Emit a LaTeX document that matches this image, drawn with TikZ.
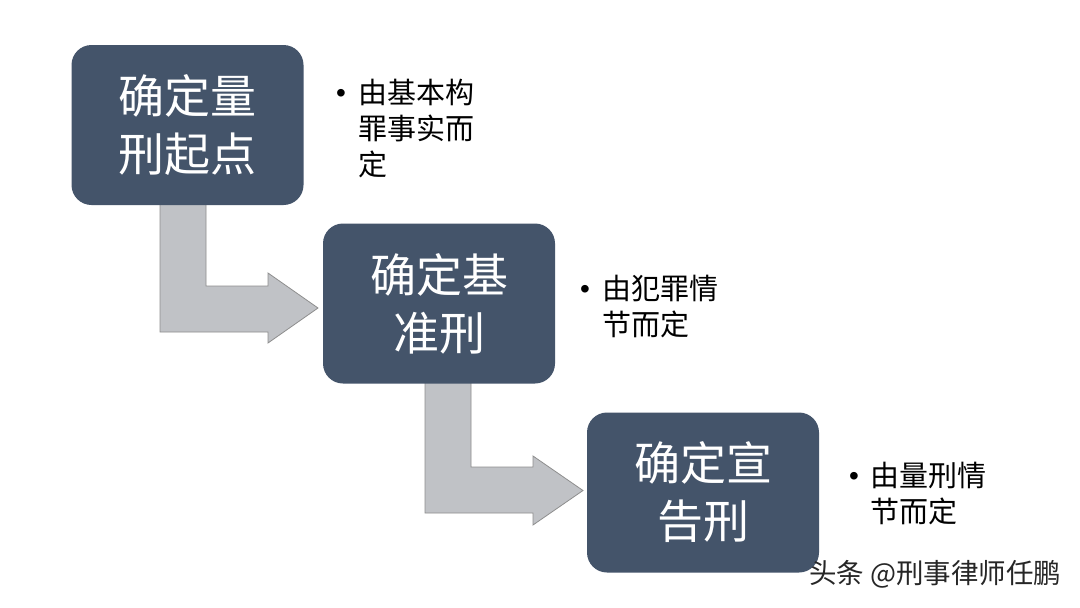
\documentclass[tikz,border=0pt]{standalone}
\usepackage{fontspec}
\newfontfamily\cjk{Noto Sans CJK SC}
\newfontfamily\latinf{Liberation Sans}
\definecolor{boxc}{HTML}{44546A}
\definecolor{arrc}{HTML}{C0C2C6}
\definecolor{arre}{HTML}{8E8E8E}
\newcommand{\bul}{\raisebox{1pt}{\latinf\fontsize{28}{28}\selectfont\textbullet}}
\begin{document}
\begin{tikzpicture}[x=1pt,y=-1pt,
 stepbox/.style={fill=boxc, draw=none, rounded corners=20pt, minimum width=232pt, minimum height=160pt, text=white, align=center, inner sep=0pt, font=\cjk\fontsize{46}{58}\selectfont},
 bent/.style={fill=arrc, draw=arre, line width=0.8pt, line join=miter},
 note/.style={anchor=base west, inner sep=0pt, font=\cjk\fontsize{29}{36}\selectfont, text=black}]
\useasboundingbox[fill=white] (0,0) rectangle (1080,608);
% bent arrows (drawn below the boxes)
\draw[bent] (160,198) -- (206,198) -- (206,286) -- (268,286) -- (268,273) -- (318,308) -- (268,343) -- (268,332) -- (160,332) -- cycle;
\draw[bent] (425,378) -- (471,378) -- (471,467) -- (533,467) -- (533,456) -- (583,490.5) -- (533,525) -- (533,513) -- (425,513) -- cycle;
% boxes
\node[stepbox] (b1) at (187.5,125) {确定量\\刑起点};
\node[stepbox] (b2) at (439,303.5) {确定基\\准刑};
\node[stepbox] (b3) at (703,492.5) {确定宣\\告刑};
% notes
\node[note] (n1) at (336,103) {\begin{tabular}[t]{@{}p{22pt}@{}l@{}}\bul & 由基本构\\ & 罪事实而\\ & 定\end{tabular}};
\node[note] (n2) at (580,299) {\begin{tabular}[t]{@{}p{22pt}@{}l@{}}\bul & 由犯罪情\\ & 节而定\end{tabular}};
\node[note] (n3) at (849,486) {\begin{tabular}[t]{@{}p{21pt}@{}l@{}}\bul & 由量刑情\\ & 节而定\end{tabular}};
% watermark
\node[anchor=base west, inner sep=0pt, text=black!85, font=\cjk\fontsize{27.5}{27.5}\selectfont] (wm) at (809,583) {头条 @刑事律师任鹏};
\end{tikzpicture}
\end{document}
